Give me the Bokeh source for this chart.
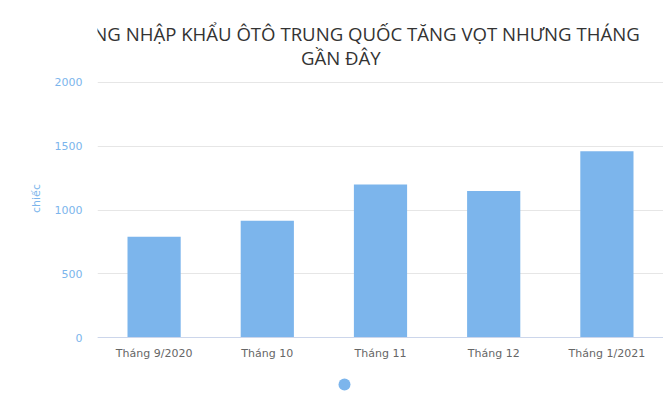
from bokeh.plotting import figure
from bokeh.models import (Range1d, FactorRange, FixedTicker, ColumnDataSource,
                          Label, Legend, LegendItem)
from bokeh.embed import file_html
from bokeh.resources import INLINE

# data
months = ["Tháng 9/2020", "Tháng 10", "Tháng 11", "Tháng 12", "Tháng 1/2021"]
cars = [790, 915, 1200, 1150, 1460]
y_ticks = [0, 500, 1000, 1500, 2000]
title_lines = ["LƯỢNG NHẬP KHẨU ÔTÔ TRUNG QUỐC TĂNG VỌT NHƯNG THÁNG", "GẦN ĐÂY"]

bar_color = "#7cb5ec"

source = ColumnDataSource(data=dict(month=months, cars=cars))

# the frame fills the whole height: 0 sits 59px above the bottom, 2000 sits 82px below the top
p = figure(x_range=FactorRange(*months), y_range=Range1d(-462.7, 2643.1),
           width=663, height=396, output_backend="svg", toolbar_location=None,
           min_border_left=97, min_border_right=0, min_border_top=0, min_border_bottom=0)
p.outline_line_color = None
p.background_fill_color = "white"
p.border_fill_color = "white"

bars = p.vbar(x="month", top="cars", width=0.47, source=source,
              fill_color=bar_color, line_color=None)

# series marker under the chart (legend without a name)
dot = p.scatter(x="month", y="cars", source=source, size=0, marker="circle",
                fill_color=bar_color, line_color=None)
legend = Legend(items=[LegendItem(label="", renderers=[dot])],
                location=(232, -3), glyph_width=30, glyph_height=30,
                label_width=0, label_standoff=0, padding=0, spacing=0,
                border_line_color=None, background_fill_alpha=0)
p.add_layout(legend)

# y axis
p.yaxis.ticker = FixedTicker(ticks=y_ticks)
p.yaxis.axis_line_color = None
p.yaxis.major_tick_line_color = None
p.yaxis.major_tick_out = 0
p.yaxis.minor_tick_line_color = None
p.yaxis.major_label_text_color = bar_color
p.yaxis.major_label_text_font = "DejaVu Sans"
p.yaxis.major_label_text_font_size = "11px"
p.yaxis.major_label_standoff = 15
p.yaxis.axis_label = "chiếc"
p.yaxis.axis_label_text_color = bar_color
p.yaxis.axis_label_text_font = "DejaVu Sans"
p.yaxis.axis_label_text_font_size = "11px"
p.yaxis.axis_label_text_font_style = "normal"
p.yaxis.axis_label_standoff = 9

p.ygrid.grid_line_color = "#e6e6e6"
p.xgrid.grid_line_color = None

# x axis, drawn at y = 0 inside the frame
p.xaxis.fixed_location = 0
p.xaxis.axis_line_color = "#ccd6eb"
p.xaxis.major_tick_line_color = None
p.xaxis.major_tick_out = 0
p.xaxis.minor_tick_line_color = None
p.xaxis.major_label_text_color = "#666666"
p.xaxis.major_label_text_font = "DejaVu Sans"
p.xaxis.major_label_text_font_size = "11px"
p.xaxis.major_label_standoff = 9

# title, two centred lines
for txt, xx, yy in zip(title_lines, [249.7, 243.3], [363, 339]):
    p.add_layout(Label(x=xx, y=yy, x_units="screen", y_units="screen", text=txt,
                       text_align="center", text_baseline="alphabetic",
                       text_font="Open Sans", text_font_size="18.6px",
                       text_color="#333333"))

open("out.html", "w").write(file_html(p, INLINE))
